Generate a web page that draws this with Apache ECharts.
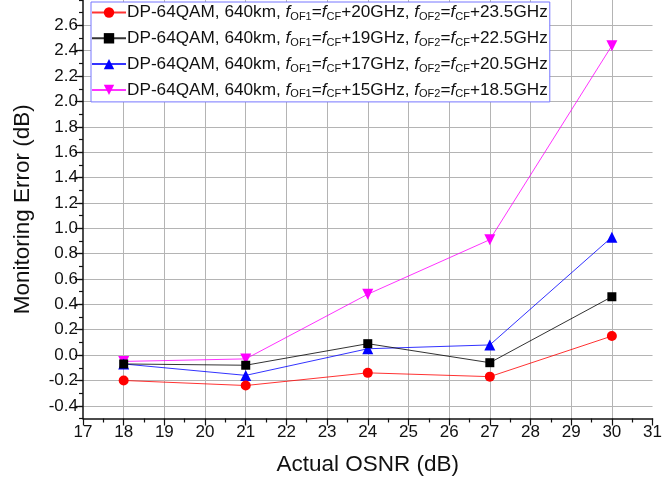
<!DOCTYPE html>
<html>
<head>
<meta charset="utf-8">
<script src="https://cdn.jsdelivr.net/npm/echarts@6/dist/echarts.min.js"></script>
<style>
  html, body { margin: 0; padding: 0; background: #fff; }
  #chart { width: 665px; height: 484px; }
</style>
</head>
<body>
<div id="chart"></div>
<script>
// Actual OSNR values (dB) at which monitoring error was measured
const osnr = [18, 21, 24, 27, 30];

// Filter offsets for each configuration (GHz from the carrier frequency)
const offsetOF1 = ['20', '19', '17', '15'];
const offsetOF2 = ['23.5', '22.5', '20.5', '18.5'];

// Monitoring error (dB) per configuration
const err20 = [-0.20, -0.24, -0.14, -0.17, 0.15];
const err19 = [-0.07, -0.08, 0.09, -0.06, 0.46];
const err17 = [-0.07, -0.16, 0.05, 0.08, 0.93];
const err15 = [-0.05, -0.03, 0.48, 0.91, 2.44];

// Axis tick values
const yMajorTicks = [-0.4, -0.2, 0.0, 0.2, 0.4, 0.6, 0.8, 1.0, 1.2, 1.4, 1.6, 1.8, 2.0, 2.2, 2.4, 2.6];

const FONT = 'Liberation Sans';
const names = offsetOF1.map((o, i) =>
  'DP-64QAM, 640km, fOF1=fCF+' + o + 'GHz, fOF2=fCF+' + offsetOF2[i] + 'GHz');
const richNames = offsetOF1.map((o, i) =>
  '{t|DP-64QAM, 640km, }{f|f}{s|OF1}{t|=}{f|f}{s|CF}{t|+' + o + 'GHz, }' +
  '{f|f}{s|OF2}{t|=}{f|f}{s|CF}{t|+' + offsetOF2[i] + 'GHz}');

const seriesDefs = [
  { data: err20, color: '#ff0000', symbol: 'circle', size: 10, rotate: 0 },
  { data: err19, color: '#000000', symbol: 'rect', size: 9, rotate: 0 },
  { data: err17, color: '#0000ff', symbol: 'triangle', size: 11, rotate: 0 },
  { data: err15, color: '#ff00ff', symbol: 'triangle', size: 11, rotate: 180 }
];

const chart = echarts.init(document.getElementById('chart'), null, { renderer: 'canvas' });

const gridLine = { show: true, lineStyle: { color: '#b4b4b4', width: 1 } };

chart.setOption({
  animation: false,
  backgroundColor: '#ffffff',
  textStyle: { fontFamily: FONT },
  grid: { left: 83, right: 10, top: -5.5, bottom: 65.5, containLabel: false },
  legend: {
    orient: 'vertical',
    left: 91,
    top: 2,
    padding: [2, 2, 2, 0],
    itemGap: 7.3,
    itemWidth: 34,
    itemHeight: 13,
    borderColor: '#7777ff',
    borderWidth: 1,
    backgroundColor: '#ffffff',
    data: names,
    formatter: name => richNames[names.indexOf(name)],
    textStyle: {
      padding: [0, 0, 0, -4],
      rich: {
        t: { fontSize: 17.2, fontFamily: FONT, color: '#111', lineHeight: 20 },
        f: { fontSize: 17.2, fontFamily: FONT, fontStyle: 'italic', color: '#111', lineHeight: 20 },
        s: { fontSize: 11, fontFamily: FONT, color: '#111', lineHeight: 11, verticalAlign: 'bottom' }
      }
    }
  },
  xAxis: {
    type: 'value',
    min: 17,
    max: 31,
    interval: 1,
    name: 'Actual OSNR (dB)',
    nameLocation: 'middle',
    nameGap: 35,
    nameTextStyle: { fontSize: 22.5, color: '#111', fontFamily: FONT },
    axisLine: { show: true, onZero: false, lineStyle: { color: '#111', width: 1.5 } },
    axisTick: { show: true, inside: false, length: 7, lineStyle: { color: '#111', width: 1.2 } },
    minorTick: { show: true, splitNumber: 2, length: 4, lineStyle: { color: '#111', width: 1.2 } },
    axisLabel: { fontSize: 17, color: '#111', margin: 5, fontFamily: FONT },
    splitLine: Object.assign({ showMinLine: false, showMaxLine: false }, gridLine)
  },
  yAxis: [
    {
      type: 'value',
      min: -0.5,
      max: 2.8,
      splitNumber: 16,
      name: 'Monitoring Error (dB)',
      nameLocation: 'middle',
      nameGap: 49,
      nameTextStyle: { fontSize: 22.5, color: '#111', fontFamily: FONT },
      axisLine: { show: true, onZero: false, lineStyle: { color: '#111', width: 1.5 } },
      axisTick: { show: true, inside: false, length: 8, customValues: yMajorTicks,
                  lineStyle: { color: '#111', width: 1.2 } },
      axisLabel: { fontSize: 17, color: '#111', margin: 5, fontFamily: FONT,
                   customValues: yMajorTicks, formatter: v => v.toFixed(1) },
      splitLine: gridLine
    },
    {
      // Secondary axis carrying the 0.1 dB minor ticks only
      type: 'value',
      position: 'left',
      min: -0.5,
      max: 2.8,
      interval: 0.1,
      axisLine: { show: false },
      axisTick: { show: true, inside: false, length: 4, lineStyle: { color: '#111', width: 1.2 } },
      axisLabel: { show: false },
      splitLine: { show: false }
    }
  ],
  series: seriesDefs.map((s, i) => ({
    name: names[i],
    type: 'line',
    yAxisIndex: 0,
    data: osnr.map((x, k) => [x, s.data[k]]),
    symbol: s.symbol,
    symbolSize: s.size,
    symbolRotate: s.rotate,
    itemStyle: { color: s.color },
    lineStyle: { color: s.color, width: 1, opacity: 0.8 },
    z: 10 - i
  }))
});
</script>
</body>
</html>
